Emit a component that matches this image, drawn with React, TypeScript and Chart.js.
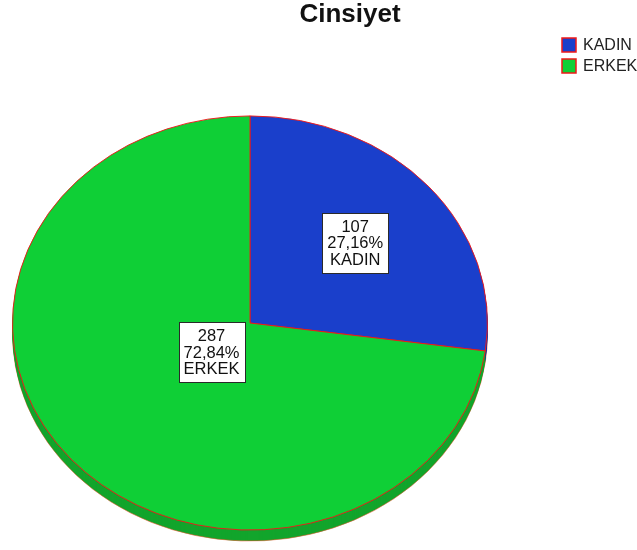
import React, { useEffect, useRef } from "react";
import { Chart, registerables } from "chart.js";

Chart.register(...registerables);

const titleText = "Cinsiyet";
const categories = ["KADIN", "ERKEK"];
const counts = [107, 287];
const sliceColors = ["#1A3FCB", "#0FCF36"];
const depthColors = ["#1232A2", "#12A52C"];
const edgeColor = "#F01818";

const FONT = "'Liberation Sans', Arial, sans-serif";
const W = 637;
const H = 550;
const CY = 323; // visual center y of ellipse
const AREA_CY = 275; // chart-area center y before squish
const K = 207.5 / 238; // vertical squish
const DEPTH = 11;
const LABEL_FRAC = [0.588, 0.215];

const total = counts.reduce((a, b) => a + b, 0);
const pctText = counts.map((c) => ((c / total) * 100).toFixed(2).replace(".", ",") + "%");

function applySquish(ctx: CanvasRenderingContext2D, dy: number) {
  ctx.translate(0, CY + dy);
  ctx.scale(1, K);
  ctx.translate(0, -AREA_CY);
}

const piePlugin = {
  id: "spssPie",
  beforeDatasetsDraw(chart: any) {
    const ctx: CanvasRenderingContext2D = chart.ctx;
    const meta = chart.getDatasetMeta(0);
    for (let d = DEPTH; d >= 1; d--) {
      ctx.save();
      applySquish(ctx, d);
      meta.data.forEach((arc: any, i: number) => {
        const p = arc.getProps(["x", "y", "startAngle", "endAngle", "outerRadius"], true);
        ctx.beginPath();
        ctx.moveTo(p.x, p.y);
        ctx.arc(p.x, p.y, p.outerRadius, p.startAngle, p.endAngle);
        ctx.closePath();
        ctx.fillStyle = depthColors[i];
        ctx.fill();
        if (d === DEPTH) {
          ctx.beginPath();
          ctx.arc(p.x, p.y, p.outerRadius, p.startAngle, p.endAngle);
          ctx.strokeStyle = "rgba(240,80,40,0.6)";
          ctx.lineWidth = 1;
          ctx.stroke();
        }
      });
      ctx.restore();
    }
    ctx.save();
    applySquish(ctx, 0);
  },
  afterDatasetsDraw(chart: any) {
    chart.ctx.restore();
  },
  afterDraw(chart: any) {
    const ctx: CanvasRenderingContext2D = chart.ctx;
    // title
    ctx.save();
    ctx.fillStyle = "#111";
    ctx.font = `bold 26px ${FONT}`;
    ctx.textAlign = "center";
    ctx.textBaseline = "alphabetic";
    ctx.fillText(titleText, 350, 22);
    ctx.restore();

    // legend
    ctx.save();
    categories.forEach((name, i) => {
      const y = 38 + i * 21;
      ctx.fillStyle = sliceColors[i];
      ctx.fillRect(562, y, 14, 14);
      ctx.strokeStyle = edgeColor;
      ctx.lineWidth = 1.5;
      ctx.strokeRect(562, y, 14, 14);
      ctx.fillStyle = "#222";
      ctx.font = `16px ${FONT}`;
      ctx.textAlign = "left";
      ctx.textBaseline = "middle";
      ctx.fillText(name, 583, y + 8);
    });
    ctx.restore();

    // slice labels
    const meta = chart.getDatasetMeta(0);
    ctx.save();
    ctx.font = `16.5px ${FONT}`;
    const lineH = 16.5;
    meta.data.forEach((arc: any, i: number) => {
      const p = arc.getProps(["x", "y", "startAngle", "endAngle", "outerRadius"], true);
      const mid = (p.startAngle + p.endAngle) / 2;
      const r = p.outerRadius * LABEL_FRAC[i];
      const cx = p.x + Math.cos(mid) * r;
      const cy = CY + Math.sin(mid) * r * K;
      const lines = [String(counts[i]), pctText[i], categories[i]];
      const tw = Math.max(...lines.map((l) => ctx.measureText(l).width));
      const bw = Math.round(tw + 10);
      const bh = Math.round(lines.length * lineH + 10);
      const bx = Math.round(cx - bw / 2) + 0.5;
      const by = Math.round(cy - bh / 2) + 0.5;
      ctx.fillStyle = "#FFFFFF";
      ctx.fillRect(bx, by, bw, bh);
      ctx.strokeStyle = "#2A2A2A";
      ctx.lineWidth = 1;
      ctx.strokeRect(bx, by, bw, bh);
      ctx.fillStyle = "#111";
      ctx.textAlign = "center";
      ctx.textBaseline = "middle";
      lines.forEach((l, j) => {
        ctx.fillText(l, cx, cy + (j - 1) * lineH + 1);
      });
    });
    ctx.restore();
  },
};

export default function App() {
  const ref = useRef<HTMLCanvasElement | null>(null);
  useEffect(() => {
    if (!ref.current) return;
    const chart = new Chart(ref.current, {
      type: "pie",
      data: {
        labels: categories,
        datasets: [
          {
            data: counts,
            backgroundColor: sliceColors,
            borderColor: edgeColor,
            borderWidth: 1,
            clip: false as any,
          },
        ],
      },
      options: {
        responsive: false,
        animation: false,
        layout: { padding: { left: 12, right: W - 488, top: AREA_CY - 238, bottom: H - AREA_CY - 238 } },
        plugins: {
          legend: { display: false },
          title: { display: false },
          tooltip: { enabled: false },
        },
      },
      plugins: [piePlugin],
    });
    return () => chart.destroy();
  }, []);
  return (
    <div style={{ position: "absolute", left: 0, top: 0, width: W, height: H, background: "#fff" }}>
      <canvas ref={ref} width={W} height={H} style={{ display: "block" }} />
    </div>
  );
}
